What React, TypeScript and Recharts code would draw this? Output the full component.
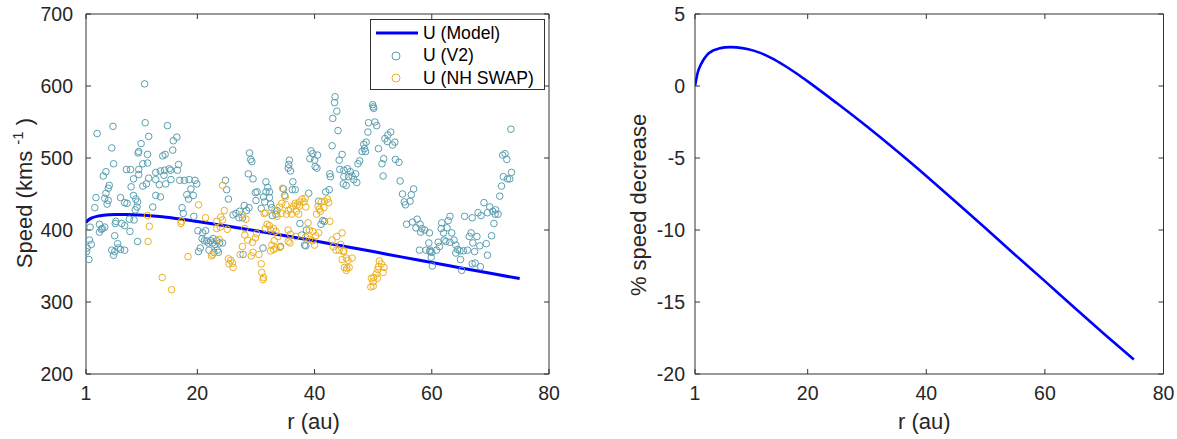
import { ComposedChart, Scatter, Line, XAxis, YAxis, Legend, Label, ReferenceLine } from 'recharts'

// axis ticks
const rTicks = [1, 20, 40, 60, 80]
const speedTicks = [200, 300, 400, 500, 600, 700]
const pctTicks = [-20, -15, -10, -5, 0, 5]

// model curve
const modelR = [1, 1.5, 2, 3, 4, 5, 6, 7, 8, 10, 12, 14, 16, 18, 20, 25, 30, 35, 40, 45, 50, 55, 60, 65, 70, 75]
const modelU = [410.5, 414.6, 416.7, 419.3, 420.6, 421.2, 421.5, 421.6, 421.5, 421.0, 419.9, 418.4, 416.4, 414.2, 411.8, 405.5, 398.9, 392.0, 384.8, 377.5, 370.0, 362.3, 354.9, 347.3, 339.8, 332.5]
const pctDecrease = [0, 1.0, 1.5, 2.15, 2.45, 2.6, 2.68, 2.7, 2.68, 2.55, 2.3, 1.92, 1.44, 0.9, 0.32, -1.22, -2.82, -4.5, -6.25, -8.05, -9.88, -11.73, -13.55, -15.4, -17.22, -19.0]

// Voyager 2 speeds [r (au), U (km/s)]
const v2Points: [number, number][] = [
  [11.0, 603], [2.9, 534], [5.6, 544], [11.1, 549], [14.9, 545], [11.7, 530], [10.4, 520], [5.4, 514], [10.0, 509], [9.9, 507],
  [11.5, 505], [15.9, 524], [14.1, 503], [14.5, 505], [5.7, 492], [4.4, 481], [3.95, 475], [7.9, 484], [8.6, 484], [10.7, 492],
  [11.5, 493], [10.0, 484], [10.0, 477], [9.1, 471], [8.7, 460], [10.7, 461], [11.3, 464], [11.7, 472], [12.9, 480], [13.7, 482],
  [14.4, 483], [15.2, 485], [12.9, 470], [14.3, 476], [13.5, 463], [14.6, 464], [15.5, 470], [4.97, 462], [4.8, 458], [4.4, 451],
  [4.2, 444], [4.8, 441], [4.6, 436], [2.7, 445], [2.5, 431], [6.9, 445], [7.6, 438], [8.0, 437], [9.1, 448], [9.5, 443],
  [9.8, 439], [9.7, 432], [9.4, 428], [12.9, 448], [13.7, 446], [12.4, 432], [6.1, 412], [6.0, 409], [7.1, 409], [7.6, 406],
  [8.4, 415], [9.2, 414], [3.3, 408], [3.8, 402], [4.2, 404], [3.3, 397], [3.6, 401], [1.7, 404], [1.6, 386], [1.9, 380],
  [1.2, 375], [1.1, 370], [1.5, 359], [5.4, 372], [5.7, 365], [5.9, 370], [6.4, 381], [6.5, 375], [5.9, 392], [6.9, 373],
  [7.6, 372], [8.5, 398], [9.8, 384],
  [16.5, 529], [15.8, 511], [15.45, 483], [16.6, 483], [16.8, 491], [17.0, 469], [17.8, 469], [18.6, 470], [19.6, 469], [19.9, 464],
  [18.9, 457], [18.2, 449], [18.5, 443], [19.3, 448], [17.4, 431], [17.6, 423], [19.4, 419], [24.8, 469], [25.0, 456], [25.3, 443],
  [28.9, 507], [29.1, 498], [29.3, 495], [28.7, 478], [29.5, 471], [29.9, 452], [30.2, 453], [28.0, 434], [28.8, 431], [28.4, 427],
  [26.6, 423], [27.2, 426], [27.7, 417], [27.1, 417], [26.1, 421], [20.1, 399], [20.9, 396], [21.4, 399], [20.8, 388], [21.2, 385],
  [21.6, 385], [21.9, 382], [22.3, 385], [22.6, 382], [23.0, 380], [23.3, 385], [23.8, 382], [20.5, 375], [20.2, 370], [22.0, 372],
  [22.8, 369], [23.4, 372], [23.6, 369], [22.7, 388], [24.3, 382], [27.8, 366],
  [43.5, 585], [43.4, 577], [43.8, 565], [43.1, 555], [44.0, 538], [43.0, 517], [39.4, 510], [39.7, 506], [39.2, 499], [40.5, 504],
  [40.0, 497], [40.1, 488], [40.4, 486], [44.7, 505], [44.2, 497], [44.3, 484], [45.0, 483], [42.6, 478], [42.7, 474], [35.7, 497],
  [35.6, 491], [35.5, 486], [35.9, 482], [31.7, 467], [32.0, 459], [31.7, 453], [32.3, 453], [31.3, 446], [32.3, 445], [31.5, 439],
  [32.5, 436], [32.7, 431], [30.9, 430], [36.3, 467], [34.7, 457], [34.9, 448], [36.2, 456], [36.7, 456], [39.0, 451], [40.7, 440],
  [41.9, 453], [42.5, 456], [33.6, 427], [33.4, 422], [32.8, 420], [30.0, 441], [37.5, 409], [38.6, 400], [37.8, 393], [38.3, 379],
  [38.5, 378], [34.2, 377], [31.2, 375], [41.1, 408], [41.4, 413], [41.7, 412], [45.0, 474], [44.9, 464],
  [49.9, 574], [50.0, 571], [50.1, 569], [49.2, 549], [50.3, 550], [50.6, 545], [49.1, 536], [48.8, 522], [48.4, 519], [48.7, 509],
  [48.1, 509], [48.5, 513], [50.9, 513], [51.8, 499], [51.5, 492], [51.7, 475], [53.0, 536], [52.5, 532], [52.0, 527], [52.4, 523],
  [53.3, 518], [53.7, 522], [53.8, 498], [54.4, 494], [54.6, 468], [55.0, 450], [55.3, 439], [55.5, 435], [56.3, 440], [56.5, 449],
  [56.9, 457], [45.6, 485], [46.1, 481], [46.4, 475], [46.7, 470], [47.2, 466], [45.8, 474], [45.4, 462], [47.0, 478], [47.7, 496],
  [47.4, 492], [55.7, 408], [56.7, 411], [57.5, 415], [58.0, 408], [58.3, 402], [58.8, 400], [57.3, 403], [58.1, 397], [59.5, 382],
  [57.9, 372], [59.0, 372], [59.7, 370], [59.9, 362],
  [73.5, 540], [72.1, 504], [72.5, 506], [72.8, 498], [72.2, 474], [72.9, 471], [73.6, 480], [73.3, 471], [71.9, 461], [71.6, 447],
  [68.9, 438], [69.9, 432], [70.4, 426], [70.9, 428], [71.3, 422], [70.8, 422], [69.5, 424], [70.6, 409], [70.2, 392], [69.3, 381],
  [69.5, 365], [67.9, 424], [68.4, 420], [66.9, 417], [65.6, 419], [66.4, 391], [66.7, 396], [67.7, 391], [67.0, 382], [67.3, 370],
  [68.2, 378], [68.3, 349], [67.4, 354], [66.9, 353], [65.1, 344], [63.1, 419], [62.8, 413], [61.7, 410], [61.6, 402], [62.0, 396],
  [62.6, 403], [63.4, 396], [63.8, 386], [63.1, 383], [62.4, 384], [64.1, 379], [64.4, 373], [64.8, 371], [65.4, 371], [66.1, 372],
  [64.9, 359], [64.1, 368], [62.1, 386], [61.1, 383], [60.8, 372], [60.0, 369], [59.7, 372], [60.1, 350], [59.6, 396], [61.3, 377],
]

// New Horizons SWAP speeds [r (au), U (km/s)]
const nhPoints: [number, number][] = [
  [11.5, 420], [11.8, 405], [11.6, 384], [14.0, 334], [15.6, 317],
  [24.3, 462], [20.2, 435], [17.2, 409], [17.3, 412], [21.4, 417], [23.3, 412], [24.0, 418], [24.6, 427], [24.3, 414], [23.9, 404],
  [23.3, 402], [25.1, 401], [27.7, 421], [28.3, 415], [28.1, 402], [28.1, 393], [28.6, 386], [29.4, 383], [29.9, 389], [30.1, 395],
  [23.7, 387], [22.6, 366], [22.4, 364], [18.4, 363], [25.3, 360], [25.7, 358], [26.0, 354], [26.1, 348], [25.4, 353], [27.7, 377],
  [27.3, 366], [29.2, 364], [29.5, 369], [30.5, 366], [30.9, 353], [31.0, 341], [31.3, 334], [31.2, 331],
  [34.55, 458], [35.0, 446], [34.4, 437], [35.1, 435], [34.0, 432], [34.3, 423], [35.5, 427], [35.9, 429], [36.4, 433], [36.7, 437],
  [37.05, 435], [37.4, 439], [37.85, 443], [38.4, 444], [38.2, 439], [38.5, 432], [37.4, 433], [36.9, 426], [36.1, 422], [37.3, 422],
  [35.2, 422], [33.6, 419], [40.6, 433], [41.15, 439], [41.7, 440], [42.2, 443], [42.4, 438], [41.6, 431], [41.0, 426], [40.35, 422],
  [40.8, 429], [31.6, 424], [31.4, 423], [33.2, 427], [31.9, 408], [32.3, 406], [31.6, 402], [32.5, 400], [33.0, 402], [33.4, 398],
  [33.75, 391], [33.1, 385], [32.7, 379], [34.1, 376], [33.0, 373], [33.4, 375], [32.5, 371], [35.5, 400], [35.9, 394], [35.5, 384],
  [35.8, 382], [36.8, 391], [38.9, 410], [39.1, 400], [39.7, 398], [39.1, 387], [38.5, 390], [40.2, 392], [40.7, 396], [39.7, 385],
  [40.0, 379], [42.6, 412], [43.0, 386], [43.8, 391], [43.2, 377], [43.65, 372], [44.2, 372], [44.45, 380], [44.9, 370], [44.7, 359],
  [45.1, 348], [45.4, 344],
  [44.7, 396], [45.0, 371], [45.4, 361], [45.7, 358], [45.9, 348], [45.5, 347], [46.4, 361], [51.05, 357], [51.4, 353], [51.85, 348],
  [50.8, 345], [50.5, 339], [50.1, 334], [50.7, 333], [49.7, 333], [50.0, 328], [51.7, 341], [50.9, 349], [49.6, 321], [50.0, 322],
]

const v2Data = v2Points.map(([r, u]) => ({ r, u }))
const nhData = nhPoints.map(([r, u]) => ({ r, u }))
const modelData = modelR.map((r, i) => ({ r, u: modelU[i] }))
const pctData = modelR.map((r, i) => ({ r, pct: pctDecrease[i] }))

const V2_COLOR = '#5A9FB0'
const NH_COLOR = '#EDB120'
const MODEL_COLOR = '#0000FF'
const AXIS_COLOR = '#333333'
const TEXT_COLOR = '#262626'
const TICK_LEN = 5

const ring = (color: string) => (props: any) => (
  <circle cx={props.cx} cy={props.cy} r={3.3} fill="none" stroke={color} strokeWidth={1} />
)

const tickStyle = { fontSize: 19.5, fill: TEXT_COLOR }

const LegendBox = () => (
  <div style={{ width: 175, height: 71, boxSizing: 'border-box', border: `1px solid ${AXIS_COLOR}`, background: '#fff', fontSize: 17.6, color: '#000', position: 'relative' }}>
    {[
      { name: 'U (Model)', kind: 'line', color: MODEL_COLOR },
      { name: 'U (V2)', kind: 'ring', color: V2_COLOR },
      { name: 'U (NH SWAP)', kind: 'ring', color: NH_COLOR },
    ].map((item, i) => (
      <div key={item.name} style={{ position: 'absolute', left: 0, top: 2 + i * 22.5, height: 22, display: 'flex', alignItems: 'center' }}>
        <svg width={52} height={22} style={{ display: 'block' }}>
          {item.kind === 'line'
            ? <line x1={5} y1={11} x2={47} y2={11} stroke={item.color} strokeWidth={3} />
            : <circle cx={25} cy={11} r={4} fill="none" stroke={item.color} strokeWidth={1} />}
        </svg>
        <span style={{ whiteSpace: 'nowrap' }}>{item.name}</span>
      </div>
    ))}
  </div>
)

// inward tick marks at both ends of a reference line
const xTickMarks = (p: any) => (
  <g>
    <line x1={p.x1} x2={p.x1} y1={Math.min(p.y1, p.y2)} y2={Math.min(p.y1, p.y2) + TICK_LEN} stroke={AXIS_COLOR} />
    <line x1={p.x1} x2={p.x1} y1={Math.max(p.y1, p.y2)} y2={Math.max(p.y1, p.y2) - TICK_LEN} stroke={AXIS_COLOR} />
  </g>
)
const yTickMarks = (p: any) => (
  <g>
    <line y1={p.y1} y2={p.y1} x1={Math.min(p.x1, p.x2)} x2={Math.min(p.x1, p.x2) + TICK_LEN} stroke={AXIS_COLOR} />
    <line y1={p.y1} y2={p.y1} x1={Math.max(p.x1, p.x2)} x2={Math.max(p.x1, p.x2) - TICK_LEN} stroke={AXIS_COLOR} />
  </g>
)

// MATLAB style box: top and right edges plus inward ticks
const boxLines = (xMax: number, yMax: number, xTicks: number[], yTicks: number[]) => [
  <ReferenceLine key="top" xAxisId="x" yAxisId="y" y={yMax} stroke={AXIS_COLOR} />,
  <ReferenceLine key="right" xAxisId="x" yAxisId="y" x={xMax} stroke={AXIS_COLOR} />,
  ...xTicks.map((t) => <ReferenceLine key={`xt${t}`} xAxisId="x" yAxisId="y" x={t} shape={xTickMarks} />),
  ...yTicks.map((t) => <ReferenceLine key={`yt${t}`} xAxisId="x" yAxisId="y" y={t} shape={yTickMarks} />),
]

const xLabel = (shift: number) => ({ viewBox }: any) => (
  <text x={viewBox.x + viewBox.width / 2 + shift} y={429} textAnchor="middle" fontSize={22} fill={TEXT_COLOR}>r (au)</text>
)

const speedLabel = () => (
  <text transform="translate(32, 193) rotate(-90)" textAnchor="middle" fontSize={22} fill={TEXT_COLOR}>
    Speed (kms <tspan fontSize={15} dy={-9}>-1</tspan><tspan dy={9}> )</tspan>
  </text>
)

const pctLabel = () => (
  <text transform="translate(46, 205) rotate(-90)" textAnchor="middle" fontSize={22} fill={TEXT_COLOR}>% speed decrease</text>
)

export default function App() {
  return (
    <div style={{ position: 'absolute', left: 0, top: 0, width: 1177, height: 439, background: '#fff', fontFamily: '"Liberation Sans", Arial, sans-serif' }}>
      <div style={{ position: 'absolute', left: 0, top: 0 }}>
        <ComposedChart width={580} height={439} margin={{ top: 14, right: 31, bottom: 5, left: 26 }}>
          <XAxis xAxisId="x" dataKey="r" type="number" domain={[1, 80]} ticks={rTicks} interval={0} tickSize={0} tickMargin={12} tickLine={false} axisLine={{ stroke: AXIS_COLOR }} tick={tickStyle} height={60} allowDataOverflow>
            <Label content={xLabel(-4)} />
          </XAxis>
          <YAxis yAxisId="y" dataKey="u" type="number" domain={[200, 700]} ticks={speedTicks} interval={0} tickSize={0} tickMargin={13} tickLine={false} axisLine={{ stroke: AXIS_COLOR }} tick={tickStyle} width={60} allowDataOverflow>
            <Label content={speedLabel} />
          </YAxis>
          {boxLines(80, 700, rTicks, speedTicks)}
          <Scatter xAxisId="x" yAxisId="y" name="U (V2)" data={v2Data} dataKey="u" shape={ring(V2_COLOR)} isAnimationActive={false} />
          <Scatter xAxisId="x" yAxisId="y" name="U (NH SWAP)" data={nhData} dataKey="u" shape={ring(NH_COLOR)} isAnimationActive={false} />
          <Line xAxisId="x" yAxisId="y" name="U (Model)" data={modelData} dataKey="u" type="monotone" stroke={MODEL_COLOR} strokeWidth={3} dot={false} isAnimationActive={false} />
          <Legend layout="horizontal" verticalAlign="middle" align="center" content={<LegendBox />} wrapperStyle={{ left: 370, top: 19, width: 175, height: 71 }} />
        </ComposedChart>
      </div>
      <div style={{ position: 'absolute', left: 600, top: 0 }}>
        <ComposedChart width={577} height={439} margin={{ top: 14, right: 13.5, bottom: 5, left: 35 }}>
          <XAxis xAxisId="x" dataKey="r" type="number" domain={[1, 80]} ticks={rTicks} interval={0} tickSize={0} tickMargin={12} tickLine={false} axisLine={{ stroke: AXIS_COLOR }} tick={tickStyle} height={60} allowDataOverflow>
            <Label content={xLabel(-5)} />
          </XAxis>
          <YAxis yAxisId="y" type="number" domain={[-20, 5]} ticks={pctTicks} interval={0} tickSize={0} tickMargin={10} tickLine={false} axisLine={{ stroke: AXIS_COLOR }} tick={tickStyle} width={60} allowDataOverflow>
            <Label content={pctLabel} />
          </YAxis>
          {boxLines(80, 5, rTicks, pctTicks)}
          <Line xAxisId="x" yAxisId="y" data={pctData} dataKey="pct" type="monotone" stroke={MODEL_COLOR} strokeWidth={2.6} dot={false} isAnimationActive={false} />
        </ComposedChart>
      </div>
    </div>
  )
}
